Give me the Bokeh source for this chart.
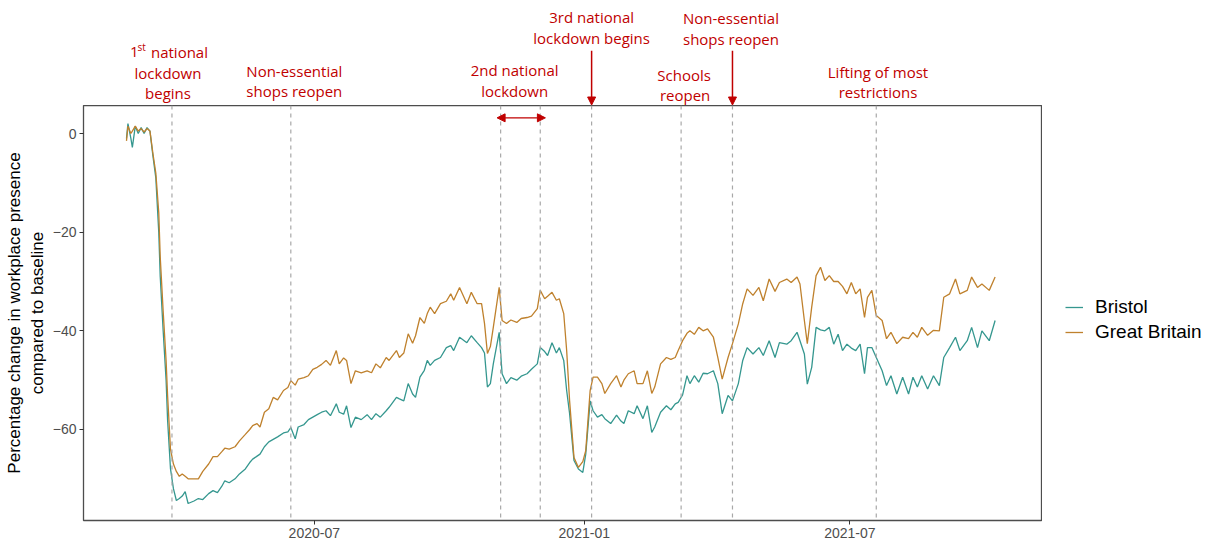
import pandas as pd
from bokeh.plotting import figure
from bokeh.layouts import column, row
from bokeh.models import (Range1d, FixedTicker, DatetimeTickFormatter, Span, Arrow,
                          NormalHead, Legend, LegendItem)
from bokeh.core.properties import value
from bokeh.embed import file_html
from bokeh.resources import INLINE

# Workplace presence, % change from baseline
dates = [
    "2020-02-24", "2020-02-25", "2020-02-27", "2020-02-28", "2020-03-01", "2020-03-03", "2020-03-05", "2020-03-07", "2020-03-09", "2020-03-11",
    "2020-03-13", "2020-03-15", "2020-03-17", "2020-03-18", "2020-03-20", "2020-03-22", "2020-03-23", "2020-03-25", "2020-03-27", "2020-03-29",
    "2020-03-31", "2020-04-02", "2020-04-04", "2020-04-06", "2020-04-10", "2020-04-13", "2020-04-16", "2020-04-20", "2020-04-23", "2020-04-26",
    "2020-04-29", "2020-05-01", "2020-05-04", "2020-05-08", "2020-05-11", "2020-05-15", "2020-05-18", "2020-05-20", "2020-05-23", "2020-05-25",
    "2020-05-28", "2020-05-31", "2020-06-03", "2020-06-06", "2020-06-10", "2020-06-13", "2020-06-15", "2020-06-18", "2020-06-20", "2020-06-24",
    "2020-06-27", "2020-06-30", "2020-07-03", "2020-07-06", "2020-07-09", "2020-07-12", "2020-07-16", "2020-07-18", "2020-07-21", "2020-07-23",
    "2020-07-26", "2020-07-29", "2020-08-02", "2020-08-06", "2020-08-09", "2020-08-12", "2020-08-15", "2020-08-19", "2020-08-21", "2020-08-26",
    "2020-08-28", "2020-08-31", "2020-09-03", "2020-09-06", "2020-09-08", "2020-09-11", "2020-09-14", "2020-09-16", "2020-09-18", "2020-09-21",
    "2020-09-25", "2020-09-29", "2020-10-02", "2020-10-04", "2020-10-08", "2020-10-13", "2020-10-16", "2020-10-20", "2020-10-23", "2020-10-25",
    "2020-10-27", "2020-10-29", "2020-10-31", "2020-11-04", "2020-11-06", "2020-11-09", "2020-11-12", "2020-11-16", "2020-11-19", "2020-11-23",
    "2020-11-26", "2020-11-30", "2020-12-02", "2020-12-05", "2020-12-07", "2020-12-10", "2020-12-13", "2020-12-15", "2020-12-18", "2020-12-20",
    "2020-12-22", "2020-12-25", "2020-12-28", "2020-12-31", "2021-01-02", "2021-01-05", "2021-01-07", "2021-01-10", "2021-01-13", "2021-01-15",
    "2021-01-19", "2021-01-23", "2021-01-26", "2021-01-28", "2021-01-31", "2021-02-04", "2021-02-06", "2021-02-10", "2021-02-13", "2021-02-16",
    "2021-02-18", "2021-02-22", "2021-02-26", "2021-03-01", "2021-03-04", "2021-03-06", "2021-03-09", "2021-03-12", "2021-03-14", "2021-03-17",
    "2021-03-20", "2021-03-23", "2021-03-26", "2021-03-30", "2021-04-02", "2021-04-05", "2021-04-09", "2021-04-12", "2021-04-16", "2021-04-19",
    "2021-04-22", "2021-04-26", "2021-04-30", "2021-05-03", "2021-05-07", "2021-05-11", "2021-05-14", "2021-05-19", "2021-05-22", "2021-05-26",
    "2021-05-28", "2021-05-31", "2021-06-02", "2021-06-05", "2021-06-08", "2021-06-11", "2021-06-14", "2021-06-17", "2021-06-20", "2021-06-23",
    "2021-06-26", "2021-06-29", "2021-07-02", "2021-07-05", "2021-07-08", "2021-07-11", "2021-07-13", "2021-07-16", "2021-07-19", "2021-07-23",
    "2021-07-26", "2021-07-29", "2021-08-02", "2021-08-06", "2021-08-10", "2021-08-13", "2021-08-16", "2021-08-19", "2021-08-23", "2021-08-27",
    "2021-08-31", "2021-09-03", "2021-09-07", "2021-09-11", "2021-09-14", "2021-09-19", "2021-09-22", "2021-09-26", "2021-09-29", "2021-10-04", "2021-10-08",
]

great_britain = [
    -1.5, 1.5, 0.0, 0.5, 1.5, 0.5, 1.0, 0.3, 1.0, 0.5,
    -4.0, -8.0, -16.0, -25.0, -36.0, -46.0, -53.0, -64.0, -67.0, -68.5,
    -69.5, -69.0, -69.5, -70.0, -70.0, -70.0, -68.5, -67.0, -65.5, -65.5,
    -64.5, -63.8, -64.0, -63.5, -62.3, -61.0, -60.0, -59.2, -58.8, -59.5,
    -56.5, -55.8, -53.5, -54.0, -52.1, -51.5, -50.1, -51.0, -49.8, -49.5,
    -49.1, -47.8, -47.4, -46.8, -46.0, -47.0, -44.0, -46.7, -45.5, -46.0,
    -50.7, -48.1, -48.5, -48.1, -48.5, -46.7, -47.5, -45.4, -46.0, -44.0,
    -45.4, -44.5, -40.6, -42.5, -41.0, -37.3, -38.5, -36.5, -35.2, -36.5,
    -34.5, -34.0, -32.5, -33.8, -31.2, -34.5, -32.2, -34.5, -34.5, -38.5,
    -44.6, -43.2, -39.3, -31.2, -37.9, -38.5, -37.8, -38.3, -37.5, -37.3,
    -37.0, -35.5, -31.8, -33.5, -33.0, -32.2, -33.8, -33.5, -36.5, -44.0,
    -54.2, -65.7, -67.7, -66.5, -64.3, -52.1, -49.4, -49.4, -50.7, -52.7,
    -50.7, -49.1, -51.4, -50.0, -48.7, -48.1, -50.7, -50.7, -48.1, -52.7,
    -51.4, -46.7, -45.4, -45.8, -45.4, -44.0, -42.0, -40.5, -40.0, -40.7,
    -39.3, -40.0, -39.6, -41.3, -45.4, -49.8, -45.4, -42.6, -38.6, -34.5,
    -31.5, -32.8, -31.2, -33.9, -29.5, -32.0, -30.2, -29.5, -30.2, -29.1,
    -30.5, -37.9, -42.6, -35.2, -28.8, -27.1, -29.8, -28.8, -30.0, -30.0,
    -31.0, -32.5, -30.2, -32.5, -31.5, -37.3, -33.2, -31.8, -36.9, -37.9,
    -41.6, -40.3, -42.6, -41.3, -41.6, -40.3, -41.3, -39.3, -40.9, -39.9,
    -40.0, -33.2, -32.5, -29.5, -32.5, -31.8, -29.1, -31.2, -30.5, -31.8, -29.1,
]

bristol = [
    -1.0, 2.0, -1.0, -2.8, 1.5, 0.0, 1.2, 0.0, 1.2, 0.5,
    -4.5, -9.0, -20.0, -29.0, -40.0, -50.0, -58.0, -68.0, -72.0, -74.4,
    -74.0, -73.5, -72.6, -75.0, -74.5, -74.0, -74.2, -73.0, -72.4, -72.8,
    -71.5, -70.4, -70.8, -70.0, -69.0, -68.0, -66.7, -66.0, -65.4, -65.0,
    -63.5, -62.5, -62.0, -61.5, -60.7, -60.5, -59.6, -61.9, -59.5, -59.0,
    -58.0, -57.5, -57.0, -56.5, -56.2, -57.2, -54.8, -56.5, -56.9, -55.2,
    -59.6, -57.5, -58.0, -57.0, -58.0, -56.8, -57.5, -56.2, -55.5, -53.5,
    -53.8, -54.2, -50.7, -52.8, -53.5, -49.4, -48.0, -46.0, -47.0, -46.0,
    -45.4, -43.4, -43.0, -44.0, -41.3, -42.4, -41.0, -42.4, -43.4, -44.5,
    -51.4, -50.7, -46.7, -40.3, -48.7, -50.7, -49.5, -50.0, -49.2, -48.7,
    -47.8, -46.7, -43.4, -44.2, -45.0, -42.4, -44.5, -43.4, -46.0, -52.1,
    -56.8, -66.3, -68.0, -68.7, -65.0, -54.2, -56.2, -57.5, -57.0, -57.8,
    -58.8, -57.1, -58.3, -58.8, -56.2, -56.8, -55.2, -57.8, -55.2, -60.6,
    -59.5, -56.5, -55.2, -56.0, -54.8, -54.5, -53.0, -49.1, -50.7, -49.1,
    -50.4, -48.6, -48.7, -48.1, -50.7, -56.8, -53.1, -54.2, -50.7, -46.0,
    -43.4, -44.7, -43.4, -45.0, -42.0, -45.4, -42.4, -42.7, -42.0, -40.3,
    -42.0, -44.7, -50.8, -47.4, -39.3, -39.8, -40.0, -39.3, -42.7, -40.7,
    -44.0, -42.7, -43.5, -44.0, -42.7, -48.7, -43.4, -43.4, -45.4, -48.1,
    -51.1, -49.1, -52.8, -49.4, -52.8, -49.4, -51.4, -49.1, -51.8, -49.1,
    -51.1, -45.4, -43.4, -41.3, -44.0, -42.0, -39.3, -43.4, -40.0, -42.0, -37.9,
]

# Policy milestones (dashed vertical lines)
event_dates = ["2020-03-26", "2020-06-15", "2020-11-05", "2020-12-02",
               "2021-01-06", "2021-03-08", "2021-04-12", "2021-07-19"]

x_ticks = ["2020-07-01", "2021-01-01", "2021-07-01"]
y_ticks = [0, -20, -40, -60]
series_names = ["Bristol", "Great Britain"]

BRISTOL_COLOR = "#35978f"
GB_COLOR = "#bf812d"
RED = "#c00000"
ANNOT_FONT = "Open Sans"
AXIS_FONT = "Liberation Sans"

Y_LOW, Y_HIGH = -78.45, 5.68      # value range of the main panel
Y_TOP = 26.97                     # same scale continued over the headline strip


def ms(s):
    return pd.Timestamp(s).value / 1e6


def blank(fig):
    fig.outline_line_color = None
    fig.xgrid.visible = False
    fig.ygrid.visible = False
    fig.background_fill_color = "white"
    fig.border_fill_color = "white"


x = pd.to_datetime(dates)
x_range = Range1d(ms("2020-01-25 17:00"), ms("2021-11-09 07:00"))

# ---- headline strip with the milestone notes -------------------------------
top = figure(
    width=1215, height=105, x_range=x_range, y_range=Range1d(Y_HIGH, Y_TOP),
    x_axis_location=None, y_axis_location=None,
    min_border_left=83, min_border_right=173, min_border_top=0, min_border_bottom=0,
    output_backend="svg", toolbar_location=None,
)
blank(top)


def note(date, y, text, dx=0, size="15px", align="center"):
    top.text(x=[ms(date)], y=[y], text=[text], x_offset=dx,
             text_font=value(ANNOT_FONT), text_font_size=size, text_color=RED,
             text_align=align, text_baseline="middle")


# 1st national lockdown begins
note("2020-03-26", 16.48, "1", dx=-42, align="left")
note("2020-03-26", 17.6, "st", dx=-34.5, size="10px", align="left")
note("2020-03-26", 16.48, "national", dx=-21, align="left")
note("2020-03-26", 12.3, "lockdown", dx=-4)
note("2020-03-26", 8.25, "begins", dx=-4)
# Non-essential shops reopen
note("2020-06-15", 12.63, "Non-essential", dx=3.5)
note("2020-06-15", 8.72, "shops reopen", dx=3.5)
# 2nd national lockdown
note("2020-11-05", 12.9, "2nd national", dx=14)
note("2020-11-05", 8.72, "lockdown", dx=14)
# 3rd national lockdown begins
note("2021-01-06", 23.58, "3rd national")
note("2021-01-06", 19.4, "lockdown begins")
# Schools reopen
note("2021-03-08", 11.9, "Schools", dx=3)
note("2021-03-08", 7.85, "reopen", dx=4)
# Non-essential shops reopen
note("2021-04-12", 23.4, "Non-essential", dx=-1.5)
note("2021-04-12", 19.15, "shops reopen", dx=-1.5)
# Lifting of most restrictions
note("2021-07-19", 12.57, "Lifting of most", dx=1.7)
note("2021-07-19", 8.51, "restrictions", dx=1.7)


def head():
    return NormalHead(size=8, fill_color=RED, line_color=RED)


for d in ("2021-01-06", "2021-04-12"):
    top.add_layout(Arrow(end=head(), x_start=ms(d), y_start=16.8, x_end=ms(d), y_end=Y_HIGH + 0.1,
                         line_color=RED, line_width=1.5))

# ---- main panel --------------------------------------------------------------
p = figure(
    width=1042, height=444, x_axis_type="datetime",
    x_range=x_range, y_range=Range1d(Y_LOW, Y_HIGH),
    min_border_left=83, min_border_right=0, min_border_top=0, min_border_bottom=29,
    output_backend="svg", toolbar_location=None,
)
blank(p)
p.outline_line_color = "#4d4d4d"
p.outline_line_width = 1.3

for d in event_dates:
    p.add_layout(Span(location=ms(d), dimension="height", line_color="#a8a8a8",
                      line_width=1.2, line_dash="4 4"))

p.line(x, bristol, color=BRISTOL_COLOR, line_width=1.3)
p.line(x, great_britain, color=GB_COLOR, line_width=1.3)

# 2nd national lockdown span
p.add_layout(Arrow(start=head(), end=head(),
                   x_start=ms("2020-11-02 14:00"), y_start=3.18,
                   x_end=ms("2020-12-05 12:00"), y_end=3.18,
                   line_color=RED, line_width=1.3))

# Axes
p.xaxis.ticker = FixedTicker(ticks=[ms(t) for t in x_ticks])
fmt = "%Y-%m"
p.xaxis.formatter = DatetimeTickFormatter(
    years=fmt, months=fmt, days=fmt, hours=fmt, hourmin=fmt, minutes=fmt,
    minsec=fmt, seconds=fmt, milliseconds=fmt, microseconds=fmt, context=None)
p.yaxis.ticker = FixedTicker(ticks=y_ticks)
for ax in (p.xaxis[0], p.yaxis[0]):
    ax.axis_line_color = None
    ax.major_tick_line_color = "#333333"
    ax.major_tick_in = 0
    ax.major_tick_out = 4
    ax.minor_tick_line_color = None
    ax.major_label_text_font = AXIS_FONT
    ax.major_label_text_font_size = "14px"
    ax.major_label_text_color = "#4d4d4d"
    ax.major_label_standoff = 3
p.yaxis.axis_label = "Percentage change in workplace presence\ncompared to baseline"
p.yaxis.axis_label_text_font = AXIS_FONT
p.yaxis.axis_label_text_font_size = "17px"
p.yaxis.axis_label_text_font_style = "normal"
p.yaxis.axis_label_text_color = "black"
p.yaxis.axis_label_standoff = 3

# ---- legend column to the right of the panel ---------------------------------
# The series are repeated here only to feed the legend keys; this side
# figure's ranges keep them out of view.
side = figure(
    width=173, height=444, x_range=Range1d(0, 1), y_range=Range1d(0, 1),
    x_axis_location=None, y_axis_location=None,
    min_border_left=0, min_border_right=0, min_border_top=0, min_border_bottom=0,
    output_backend="svg", toolbar_location=None,
)
blank(side)
keys = [side.line(x, vals, color=c, line_width=1.3)
        for vals, c in ((bristol, BRISTOL_COLOR), (great_britain, GB_COLOR))]
legend = Legend(
    items=[LegendItem(label=n, renderers=[r]) for n, r in zip(series_names, keys)],
    location=(23, 177), margin=0, padding=0, spacing=3,
    label_text_font=AXIS_FONT, label_text_font_size="19px", label_text_color="black",
    glyph_width=18, glyph_height=20, label_height=20, label_standoff=12,
    border_line_color=None, background_fill_alpha=0,
)
side.add_layout(legend)

layout = column(top, row(p, side, spacing=0), spacing=0)
open("out.html", "w").write(file_html(layout, INLINE))
